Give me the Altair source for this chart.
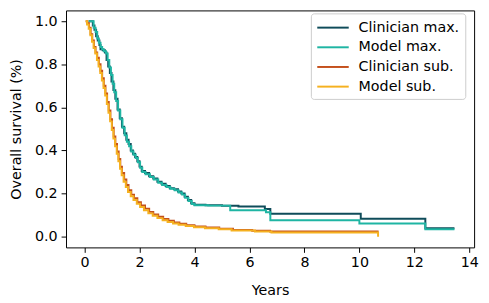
import altair as alt
import pandas as pd

series_names = ["Clinician max.", "Model max.", "Clinician sub.", "Model sub."]
series_colors = ["#0f4c5a", "#1fb5a3", "#c4501c", "#f5b120"]

clin_max_t = [0.15, 0.30, 0.36, 0.42, 0.48, 0.54, 0.58, 0.66, 0.74, 0.80, 0.86, 0.92, 0.98, 1.05, 1.12,
              1.20, 1.28, 1.36, 1.44, 1.52, 1.60, 1.68, 1.76, 1.84, 1.92, 2.00, 2.08, 2.20, 2.35, 2.50,
              2.65, 2.80, 2.95, 3.10, 3.25, 3.40, 3.52, 3.64, 3.76, 3.88, 4.00, 4.40, 5.00, 5.60, 6.56,
              6.76, 10.05, 12.40, 13.46]
clin_max_s = [1.0, 0.98, 0.96, 0.93, 0.91, 0.89, 0.87, 0.865, 0.855, 0.82, 0.79, 0.76, 0.72, 0.68, 0.64,
              0.59, 0.55, 0.51, 0.48, 0.45, 0.43, 0.40, 0.385, 0.37, 0.35, 0.325, 0.305, 0.295, 0.28, 0.27,
              0.255, 0.245, 0.235, 0.225, 0.22, 0.21, 0.20, 0.185, 0.17, 0.155, 0.148, 0.146, 0.143, 0.14, 0.128,
              0.106, 0.083, 0.039, 0.039]

model_max_t = [0.15, 0.33, 0.40, 0.46, 0.52, 0.58, 0.64, 0.70, 0.78, 0.84, 0.90, 0.96, 1.02, 1.08, 1.15,
               1.22, 1.30, 1.38, 1.46, 1.54, 1.62, 1.70, 1.78, 1.86, 1.94, 2.02, 2.10, 2.22, 2.38, 2.52,
               2.68, 2.82, 2.98, 3.12, 3.28, 3.42, 3.55, 3.66, 3.78, 3.90, 4.00, 4.50, 5.30, 6.60, 6.76,
               10.00, 12.40, 13.46]
model_max_s = [1.0, 0.97, 0.95, 0.92, 0.90, 0.88, 0.87, 0.86, 0.85, 0.82, 0.785, 0.75, 0.71, 0.67, 0.63,
               0.585, 0.545, 0.505, 0.47, 0.44, 0.42, 0.395, 0.38, 0.365, 0.345, 0.32, 0.30, 0.29, 0.277, 0.265,
               0.25, 0.24, 0.23, 0.222, 0.215, 0.205, 0.195, 0.18, 0.165, 0.152, 0.146, 0.144, 0.122, 0.113, 0.076,
               0.061, 0.034, 0.034]

clin_sub_t = [0.04, 0.10, 0.16, 0.22, 0.28, 0.34, 0.40, 0.46, 0.52, 0.58, 0.64, 0.70, 0.76, 0.82, 0.88,
              0.94, 1.00, 1.06, 1.12, 1.18, 1.24, 1.30, 1.36, 1.44, 1.52, 1.60, 1.70, 1.80, 1.92, 2.05,
              2.20, 2.35, 2.50, 2.68, 2.86, 3.05, 3.25, 3.45, 3.70, 4.00, 4.40, 4.90, 5.40, 6.10, 6.75, 10.70]
clin_sub_s = [1.0, 0.99, 0.97, 0.94, 0.91, 0.88, 0.855, 0.83, 0.80, 0.77, 0.735, 0.70, 0.665, 0.625, 0.585,
              0.545, 0.505, 0.465, 0.43, 0.395, 0.36, 0.325, 0.295, 0.265, 0.24, 0.215, 0.195, 0.178, 0.16, 0.145,
              0.13, 0.115, 0.103, 0.092, 0.082, 0.074, 0.066, 0.06, 0.053, 0.047, 0.042, 0.037, 0.031, 0.027, 0.024, 0.024]

model_sub_t = [0.04, 0.09, 0.15, 0.21, 0.27, 0.33, 0.39, 0.45, 0.51, 0.57, 0.63, 0.69, 0.75, 0.81, 0.87,
               0.93, 0.99, 1.05, 1.11, 1.17, 1.23, 1.29, 1.35, 1.42, 1.50, 1.58, 1.68, 1.78, 1.90, 2.02,
               2.16, 2.32, 2.48, 2.65, 2.84, 3.02, 3.22, 3.42, 3.68, 3.98, 4.38, 4.88, 5.35, 6.20, 6.80, 10.68]
model_sub_s = [1.0, 0.985, 0.965, 0.935, 0.905, 0.875, 0.85, 0.82, 0.79, 0.76, 0.725, 0.69, 0.655, 0.615, 0.575,
               0.535, 0.495, 0.455, 0.42, 0.385, 0.35, 0.315, 0.285, 0.255, 0.23, 0.207, 0.187, 0.17, 0.153, 0.138,
               0.122, 0.108, 0.097, 0.086, 0.076, 0.068, 0.061, 0.055, 0.049, 0.044, 0.039, 0.034, 0.028, 0.024, 0.019, 0.0]

x_ticks = [0, 2, 4, 6, 8, 10, 12, 14]
y_ticks = [0.0, 0.2, 0.4, 0.6, 0.8, 1.0]

all_t = [clin_max_t, model_max_t, clin_sub_t, model_sub_t]
all_s = [clin_max_s, model_max_s, clin_sub_s, model_sub_s]

frames = []
for name, ts, ss in zip(series_names, all_t, all_s):
    frames.append(pd.DataFrame({"Years": ts, "Survival": ss, "Series": name,
                                "idx": list(range(len(ts)))}))
df = pd.concat(frames, ignore_index=True)

FONT = "DejaVu Sans"
FS = 14.5
color_scale = alt.Scale(domain=series_names, range=series_colors)

layers = []
for name in series_names:
    layers.append(
        alt.Chart(df).transform_filter(alt.datum.Series == name).mark_line(
            interpolate="step-after", strokeWidth=2, clip=True
        ).encode(
            x=alt.X("Years:Q", scale=alt.Scale(domain=[-0.675, 14.175], nice=False, zero=False),
                    axis=alt.Axis(values=x_ticks, format="d", title="Years", grid=False,
                                  titlePadding=15)),
            y=alt.Y("Survival:Q", scale=alt.Scale(domain=[-0.05, 1.05], nice=False, zero=False),
                    axis=alt.Axis(values=y_ticks, format=".1f", title="Overall survival (%)",
                                  grid=False, titlePadding=11)),
            color=alt.Color("Series:N", scale=color_scale, sort=series_names,
                            legend=alt.Legend(title=None, orient="none", legendX=249, legendY=3,
                                              symbolType="M-1,0L3,0", symbolSize=256,
                                              symbolStrokeWidth=2, labelOffset=25,
                                              rowPadding=4, padding=5.5, fillColor="white",
                                              strokeColor="#cccccc", cornerRadius=3,
                                              labelFontSize=FS, labelFont=FONT,
                                              labelColor="black")),
            order="idx:Q",
        )
    )

chart = alt.layer(*layers).properties(
    width=415, height=241,
    autosize=alt.AutoSizeParams(type="none"),
    padding={"left": 59, "top": 0, "right": 7, "bottom": 50},
).configure_view(
    stroke="black", strokeWidth=1
).configure_axis(
    domain=False, tickColor="black", tickSize=5, tickWidth=1,
    labelFont=FONT, labelFontSize=FS, labelColor="black", labelPadding=3,
    titleFont=FONT, titleFontSize=FS, titleFontWeight="normal", titleColor="black",
).configure_axisY(labelPadding=4)

chart.save("out.html", embed_options={"renderer": "svg", "actions": False})
